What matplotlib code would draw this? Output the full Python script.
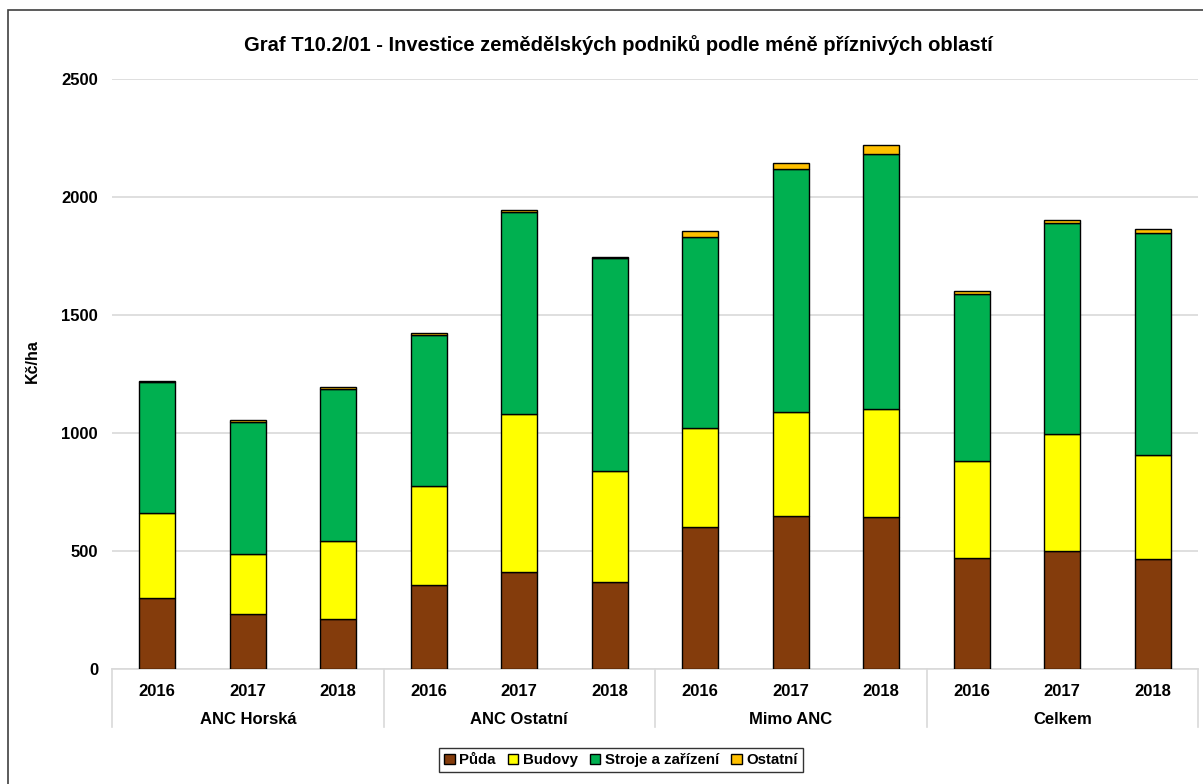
import matplotlib
matplotlib.use("Agg")
import matplotlib.pyplot as plt
from matplotlib.patches import Rectangle
import numpy as np

plt.rcParams['font.family'] = ['Liberation Sans', 'DejaVu Sans']
plt.rcParams['font.weight'] = 'bold'

groups = ["ANC Horská", "ANC Ostatní", "Mimo ANC", "Celkem"]
years = ["2016", "2017", "2018"]
series_names = ["Půda", "Budovy", "Stroje a zařízení", "Ostatní"]
puda = [302, 233, 213, 357, 409, 367, 602, 649, 643, 471, 499, 464]
budovy = [360, 256, 328, 420, 671, 473, 419, 439, 458, 409, 495, 443]
stroje = [555, 559, 647, 640, 857, 901, 808, 1031, 1080, 708, 895, 940]
ostatni = [5, 6, 7, 7, 6, 6, 26, 25, 41, 15, 12, 17]
colors = ["#843C0C", "#FFFF00", "#00B050", "#FFC000"]
yticks = [0, 500, 1000, 1500, 2000, 2500]

W, H = 1203, 784
fig = plt.figure(figsize=(W / 100, H / 100), dpi=100)
ax = fig.add_axes([112 / W, 1 - 669 / H, (1198 - 112) / W, (669 - 79) / H])

n = len(puda)
x = np.arange(n)
bottom = np.zeros(n)
for vals, c, name in zip([puda, budovy, stroje, ostatni], colors, series_names):
    ax.bar(x, vals, 0.4, bottom=bottom, color=c, edgecolor="black", linewidth=1.0,
           label=name, zorder=3)
    bottom += np.array(vals)

ax.set_xlim(-0.5, n - 0.5)
ax.set_ylim(0, 2500)
ax.set_yticks(yticks)
ax.set_yticklabels([str(t) for t in yticks], fontsize=12, fontweight='bold')
ax.tick_params(axis='y', length=0, pad=10)
ax.grid(axis='y', color='#D9D9D9', linewidth=1.2, zorder=0)
for s in ['top', 'right', 'left']:
    ax.spines[s].set_visible(False)
ax.spines['bottom'].set_color('#D9D9D9')
ax.spines['bottom'].set_linewidth(1.2)
ax.set_xticks(x)
ax.set_xticklabels(years * len(groups), fontsize=12, fontweight='bold')
ax.tick_params(axis='x', length=0, pad=11)

# group labels and separators
trans = ax.get_xaxis_transform()
for gi, g in enumerate(groups):
    ax.text(gi * 3 + 1, -51 / 590, g, transform=trans, ha='center', va='center',
            fontsize=12, fontweight='bold')
for b in range(len(groups) + 1):
    ax.plot([b * 3 - 0.5, b * 3 - 0.5], [0, -58 / 590], transform=trans,
            color='#D9D9D9', linewidth=1.2, clip_on=False)

ax.set_ylabel("Kč/ha", fontsize=11.5, fontweight='bold')
ax.yaxis.set_label_coords((40 - 112) / (1198 - 112), (669 - 361) / 590)

fig.text(618 / W, 1 - 45 / H, "Graf T10.2/01 - Investice zemědělských podniků podle méně příznivých oblastí",
         ha='center', va='center', fontsize=14.5, fontweight='bold')

leg = fig.legend(loc='center', bbox_to_anchor=(621 / W, 1 - 760 / H), ncol=4,
                 frameon=True, fancybox=False, edgecolor='black',
                 handlelength=0.7, handleheight=0.7, handletextpad=0.3,
                 columnspacing=0.8, borderpad=0.35, prop={'weight': 'bold', 'size': 10.8})
leg.get_frame().set_linewidth(1.0)

# outer border (left and top visible)
fig.patches.append(Rectangle((8 / W, -0.05), 1.2, 1 - 10 / H + 0.05, transform=fig.transFigure,
                             fill=False, edgecolor='#404040', linewidth=1.2))

fig.savefig("out.png", dpi=100)
